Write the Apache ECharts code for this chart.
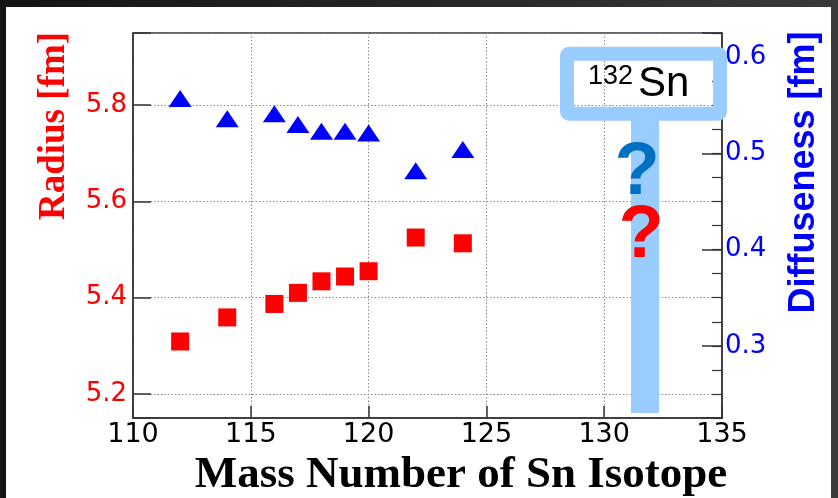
<!DOCTYPE html>
<html>
<head>
<meta charset="utf-8">
<script src="https://cdn.jsdelivr.net/npm/echarts@6/dist/echarts.min.js"></script>
<style>
html,body{margin:0;padding:0;background:linear-gradient(90deg,#141414,#262626 50%,#3a3a3a);}
#c{width:838px;height:498px;}
</style>
</head>
<body>
<div id="c"></div>
<script>
// ---- data ----
const massNumbers = [112, 114, 116, 117, 118, 119, 120, 122, 124];
const radius = [5.309, 5.359, 5.387, 5.410, 5.434, 5.444, 5.455, 5.525, 5.513];
const diffuseness = [0.557, 0.536, 0.541, 0.530, 0.523, 0.523, 0.521, 0.482, 0.504];
const xTicks = [110, 115, 120, 125, 130, 135];
const radiusTicks = [5.2, 5.4, 5.6, 5.8];
const diffTicks = [0.3, 0.4, 0.5, 0.6];
const signLabelMass = '132';
const signLabelElem = 'Sn';

const sans = '"Liberation Sans", Arial, sans-serif';
const tickFont = '"DejaVu Sans", sans-serif';
const serif = '"Liberation Serif", "Times New Roman", serif';
const frameColor = '#333';
const gridLine = {show: true, lineStyle: {type: [1.5, 2], color: '#8a8a8a', width: 1}};

const chart = echarts.init(document.getElementById('c'), null, {renderer: 'canvas'});
const option = {
  animation: false,
  backgroundColor: 'transparent',
  grid: {left: 133, right: 116, top: 33, bottom: 80, show: true, borderColor: frameColor, borderWidth: 1.5, backgroundColor: 'transparent'},
  xAxis: {
    type: 'value', min: xTicks[0], max: xTicks[xTicks.length - 1], interval: 5,
    axisLine: {show: true, onZero: false, lineStyle: {color: frameColor, width: 1.5}},
    axisTick: {show: true, inside: true, length: 12, lineStyle: {color: frameColor, width: 1.5}},
    axisLabel: {color: '#000', fontFamily: tickFont, fontSize: 27, margin: 3},
    splitLine: gridLine
  },
  yAxis: [
    {
      type: 'value', position: 'left', min: 5.15, max: 5.95, splitNumber: 4,
      axisLine: {show: true, onZero: false, lineStyle: {color: frameColor, width: 1.5}},
      axisTick: {show: true, inside: true, length: 18, lineStyle: {color: frameColor, width: 1.5}},
      axisLabel: {color: '#ff0000', fontFamily: tickFont, fontSize: 26, margin: 6,
        formatter: v => (radiusTicks.some(t => Math.abs(t - v) < 1e-6) ? v.toFixed(1) : '')},
      splitLine: gridLine
    },
    {
      type: 'value', position: 'right', min: 0.225, max: 0.625, interval: 0.025,
      axisLine: {show: true, onZero: false, lineStyle: {color: frameColor, width: 1.5}},
      axisTick: {show: true, inside: true, length: 10, lineStyle: {color: frameColor, width: 1.2}},
      axisLabel: {color: '#0000ff', fontFamily: tickFont, fontSize: 26, margin: 3,
        formatter: v => (diffTicks.some(t => Math.abs(t - v) < 1e-6) ? v.toFixed(1) : '')},
      splitLine: {show: false}
    },
    {
      type: 'value', position: 'right', min: 0.225, max: 0.625, splitNumber: 4,
      axisLine: {show: false},
      axisTick: {show: true, inside: true, length: 20, lineStyle: {color: frameColor, width: 1.5}},
      axisLabel: {show: false},
      splitLine: {show: false}
    }
  ],
  series: [
    {
      name: 'Radius', type: 'scatter', yAxisIndex: 0,
      symbol: 'rect', symbolSize: 18, itemStyle: {color: '#ff0000', opacity: 1},
      data: massNumbers.map((m, i) => [m, radius[i]])
    },
    {
      name: 'Diffuseness', type: 'scatter', yAxisIndex: 1,
      symbol: 'triangle', symbolSize: [23, 17], itemStyle: {color: '#0000ff', opacity: 1},
      data: massNumbers.map((m, i) => [m, diffuseness[i]])
    }
  ],
  graphic: [
    {type: 'rect', silent: true, z: -100, shape: {x: 6, y: 7, width: 825, height: 491}, style: {fill: '#ffffff'}},
    // sign frame & post
    {type: 'rect', silent: true, z: 50, shape: {x: 567, y: 53.7, width: 153, height: 60, r: 2},
      style: {fill: 'transparent', stroke: '#99ccff', lineWidth: 14}},
    {type: 'rect', silent: true, z: 50, shape: {x: 631, y: 113, width: 28, height: 300}, style: {fill: '#99ccff'}},
    {type: 'text', silent: true, z: 60, style: {text: signLabelMass, x: 588, y: 76.5, font: '27px ' + sans, fill: '#000', align: 'left', verticalAlign: 'middle'}},
    {type: 'text', silent: true, z: 60, style: {text: signLabelElem, x: 638, y: 84, font: '42px ' + sans, fill: '#000', align: 'left', verticalAlign: 'middle'}},
    {type: 'text', silent: true, z: 60, style: {text: '?', x: 637, y: 174, font: 'bold 74px ' + sans, fill: '#0070c0', align: 'center', verticalAlign: 'middle'}},
    {type: 'text', silent: true, z: 60, style: {text: '?', x: 641, y: 237, font: 'bold 74px ' + sans, fill: '#ff0000', align: 'center', verticalAlign: 'middle'}},
    // axis titles
    {type: 'text', silent: true, z: 10, x: 54, y: 126, rotation: Math.PI / 2,
      style: {text: 'Radius [fm]', x: 0, y: 0, font: 'bold 37px ' + serif, fill: '#ff0000', align: 'center', verticalAlign: 'middle'}},
    {type: 'text', silent: true, z: 10, x: 804, y: 172.5, rotation: Math.PI / 2,
      style: {text: 'Diffuseness [fm]', x: 0, y: 0, font: 'bold 36px ' + sans, fill: '#0000ff', align: 'center', verticalAlign: 'middle'}},
    {type: 'text', silent: true, z: 10, x: 461, y: 475.5,
      style: {text: 'Mass Number of Sn Isotope', x: 0, y: 0, font: 'bold 45px ' + serif, fill: '#000', align: 'center', verticalAlign: 'middle'}}
  ]
};
chart.setOption(option);
</script>
</body>
</html>
